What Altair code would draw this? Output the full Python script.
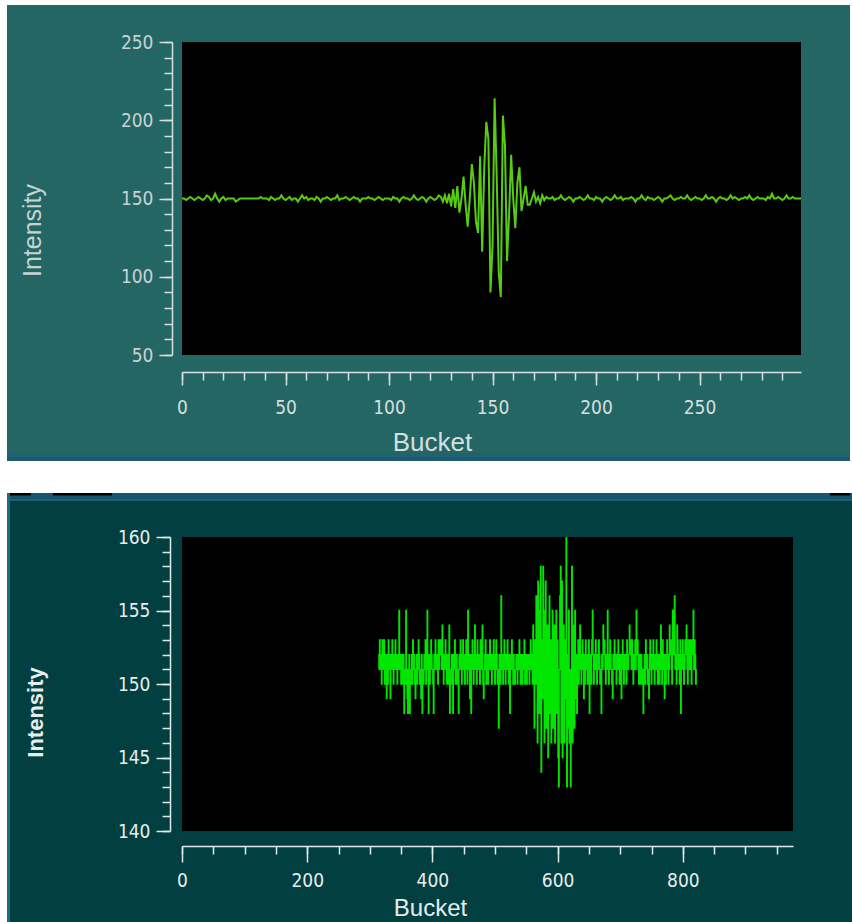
import altair as alt
import pandas as pd

# ---------------- data ----------------
top_values = [
    150,150,149,150,151,150,149,150,151,150,
    149,150,152,151,149,150,153,150,148,150,
    151,149,150,150,150,150,148,149,150,150,
    150,150,150,150,150,150,150,150,151,150,
    150,150,149,151,150,149,150,150,152,150,
    149,150,151,149,150,150,148,150,152,150,
    151,149,150,150,149,151,150,148,150,150,
    151,150,149,150,150,152,149,150,150,151,
    150,149,150,151,150,150,148,150,150,150,
    151,150,150,149,150,151,150,149,150,150,
    150,149,151,150,150,148,150,151,150,150,
    149,150,152,150,149,150,151,150,148,150,
    151,150,149,150,152,151,148,152,147,153,
    145,156,144,158,141,150,164,146,132,150,
    172,160,135,128,177,116,170,199,188,90,
    120,214,165,103,87,203,184,110,140,178,
    150,131,160,170,142,150,158,146,146,150,
    154,148,151,147,152,149,151,150,150,151,
    149,150,150,152,150,149,150,151,150,148,
    150,150,151,150,149,150,152,150,150,149,
    151,150,150,148,150,151,150,149,150,152,
    150,150,151,149,150,150,150,151,150,148,
    150,150,152,150,149,151,150,150,149,150,
    151,150,148,150,150,151,152,150,149,150,
    150,151,150,150,152,150,149,150,151,150,
    150,149,150,152,150,150,151,150,148,150,
    151,150,150,149,150,152,150,151,150,149,
    150,150,151,150,152,150,149,150,151,150,
    150,150,149,151,150,153,150,150,151,150,
    149,150,152,150,150,151,150,150,150,150,
]

bottom_start = 314
bottom_values = [
    151,152,153,151,152,150,153,152,151,153,150,152,151,149,152,150,153,151,152,149,
    152,151,153,152,150,151,152,153,151,152,150,151,152,155,151,152,150,152,151,150,
    152,148,151,150,155,151,149,148,151,152,148,150,151,152,150,153,151,152,150,149,
    151,152,150,151,153,152,150,151,149,152,148,151,150,152,151,153,150,152,155,151,
    148,152,150,151,153,152,151,150,148,152,151,153,152,151,152,150,153,151,152,153,
    152,151,154,152,150,151,152,153,151,150,152,151,150,154,148,151,150,152,151,148,
    152,151,153,150,151,152,150,151,148,152,151,153,152,150,151,153,152,151,150,152,
    153,151,150,155,152,151,149,152,148,151,153,152,150,151,154,152,151,150,153,152,
    151,152,150,153,152,151,154,150,149,151,152,153,150,152,151,150,152,151,153,152,
    151,150,152,151,153,152,150,151,153,152,150,151,147,152,151,150,156,151,152,150,
    151,153,152,150,151,152,153,151,150,152,148,151,152,153,151,150,152,151,150,151,
    152,151,150,152,151,153,151,150,152,151,150,152,151,153,150,151,152,150,151,152,
    151,150,152,153,151,152,150,154,151,147,153,150,156,152,146,157,151,148,155,158,
    144,153,149,158,152,146,155,157,147,150,154,145,152,156,148,153,146,151,155,147,
    150,154,146,152,155,148,153,145,143,151,156,158,146,157,145,150,154,146,153,149,
    160,143,152,147,155,146,151,143,148,158,146,154,150,147,155,149,152,148,151,153,
    150,152,154,151,150,152,153,151,149,152,150,153,151,152,150,151,153,148,151,152,
    150,153,155,152,150,151,152,153,151,150,152,151,153,152,150,151,148,152,151,154,
    152,153,151,150,152,151,155,152,150,151,153,152,151,150,149,152,151,153,152,151,
    150,152,151,153,152,150,151,152,149,151,153,152,150,151,152,151,150,153,152,151,
    152,154,153,152,151,153,152,150,151,152,153,151,155,152,153,151,150,152,151,150,
    152,151,150,148,151,152,150,153,151,152,150,151,149,152,153,151,150,152,151,153,
    152,150,151,152,153,151,150,152,151,150,152,154,151,150,153,152,151,149,152,150,
    151,153,152,150,151,154,152,153,151,150,155,152,153,156,151,152,150,154,153,151,
    152,150,153,148,152,151,153,152,150,151,153,152,154,151,150,153,152,151,153,152,
    150,153,152,155,151,153,152,150,151,
]

top_x_domain = [0, 299]
top_y_domain = [50, 250]
top_x_major = [0, 50, 100, 150, 200, 250]
top_x_minor = list(range(0, 300, 10))
top_y_major = [50, 100, 150, 200, 250]
top_y_minor = list(range(50, 251, 10))

bot_x_domain = [0, 976]
bot_y_domain = [140, 160]
bot_x_major = [0, 200, 400, 600, 800]
bot_x_minor = list(range(0, 976, 50))
bot_y_major = [140, 145, 150, 155, 160]
bot_y_minor = list(range(140, 161, 1))

df_top = pd.DataFrame({"bucket": list(range(len(top_values))), "intensity": top_values})
df_bot = pd.DataFrame({"bucket": list(range(bottom_start, bottom_start + len(bottom_values))),
                       "intensity": bottom_values})

FONT = "Liberation Sans Narrow, DejaVu Sans Condensed, Liberation Sans, Arial"
TFONT = "Liberation Sans, Arial"

W1, H1 = 619, 313
W2, H2 = 611, 294


def rect(x1, x2, y1, y2, color):
    return alt.Chart(pd.DataFrame({"k": [0]})).mark_rect(color=color, clip=False).encode(
        x=alt.value(x1), x2=alt.value(x2), y=alt.value(y1), y2=alt.value(y2))


def axes(orient, offset, major, minor, big, small, col, tcol, lpad, title, tsize, tweight, tx, ty):
    common = dict(orient=orient, offset=offset, grid=False, zindex=1,
                  tickColor=col, tickWidth=1.5)
    maj = alt.Axis(values=major, tickSize=big, domain=True, domainColor=col, domainWidth=1.5,
                   labelColor=tcol, labelFont=FONT, labelFontSize=19, labelPadding=lpad,
                   labelFlush=False, labelOverlap=False,
                   title=title, titleFont=TFONT, titleFontSize=tsize, titleFontWeight=tweight,
                   titleColor=tcol, titleX=tx, titleY=ty, titleAlign="center",
                   titleBaseline="middle", titleAngle=(270 if orient == "left" else 0),
                   **common)
    mnr = alt.Axis(values=minor, tickSize=small, domain=False, labels=False, title=None, **common)
    return maj, mnr


# ---------------- top panel ----------------
tx_maj, tx_min = axes("bottom", 17, top_x_major, top_x_minor, 13, 8, "#d6dfde", "#d6dfde",
                      13, "Bucket", 26, "normal", 250, 70)
ty_maj, ty_min = axes("left", 10, top_y_major, top_y_minor, 13, 8, "#d6dfde", "#c8d3d2",
                      6, "Intensity", 25, "normal", -140, 188)

xs1 = alt.Scale(domain=top_x_domain, nice=False, zero=False)
ys1 = alt.Scale(domain=top_y_domain, nice=False, zero=False)

top_line = alt.Chart(df_top).mark_line(color="#58cc12", strokeWidth=2, clip=True).encode(
    x=alt.X("bucket:Q", scale=xs1, axis=tx_maj),
    y=alt.Y("intensity:Q", scale=ys1, axis=ty_maj))
top_minor = alt.Chart(df_top).mark_line(opacity=0).encode(
    x=alt.X("bucket:Q", scale=xs1, axis=tx_min),
    y=alt.Y("intensity:Q", scale=ys1, axis=ty_min))

top = alt.layer(
    rect(-175, 668, -37, 411, "#246664"),
    rect(-175, 668, 411, 415, "#216170"),
    rect(-175, 668, 415, 419, "#1c5a72"),
    rect(0, W1, 0, H1, "#000000"),
    top_line, top_minor,
).resolve_axis(x="independent", y="independent").properties(width=W1, height=H1)

# ---------------- bottom panel ----------------
bx_maj, bx_min = axes("bottom", 15, bot_x_major, bot_x_minor, 16, 8, "#e2e9e9", "#e6eded",
                      9, "Bucket", 24, "normal", 248, 62)
by_maj, by_min = axes("left", 12, bot_y_major, bot_y_minor, 14, 8, "#e2e9e9", "#e6eded",
                      6, "Intensity", 22, "bold", -135, 175)

xs2 = alt.Scale(domain=bot_x_domain, nice=False, zero=False)
ys2 = alt.Scale(domain=bot_y_domain, nice=False, zero=False)

bot_line = alt.Chart(df_bot).mark_line(color="#00e600", strokeWidth=1.3, interpolate="step",
                                       clip=True).encode(
    x=alt.X("bucket:Q", scale=xs2, axis=bx_maj),
    y=alt.Y("intensity:Q", scale=ys2, axis=by_maj))
bot_minor = alt.Chart(df_bot).mark_line(opacity=0).encode(
    x=alt.X("bucket:Q", scale=xs2, axis=bx_min),
    y=alt.Y("intensity:Q", scale=ys2, axis=by_min))

bottom = alt.layer(
    rect(-175, 670, -44, -37, "#16566c"),
    rect(-172, -151, -44, -41.5, "#000000"),
    rect(-129, -70, -44, -41.5, "#000000"),
    rect(648, 668, -44, -41.5, "#000000"),
    rect(-175, 670, -38, -36, "#1f6077"),
    rect(-175, 670, -36, 385, "#023f41"),
    rect(-175, -172, -44, 385, "#1d6a86"),
    rect(0, W2, 0, H2, "#000000"),
    bot_line, bot_minor,
).resolve_axis(x="independent", y="independent").properties(width=W2, height=H2)

chart = alt.vconcat(top, bottom, spacing=32).properties(
    padding={"left": 7, "top": 5, "right": 0, "bottom": 0},
    background="white",
).configure_view(stroke=None)

chart.save("out.html", embed_options={"renderer": "svg", "actions": False})
